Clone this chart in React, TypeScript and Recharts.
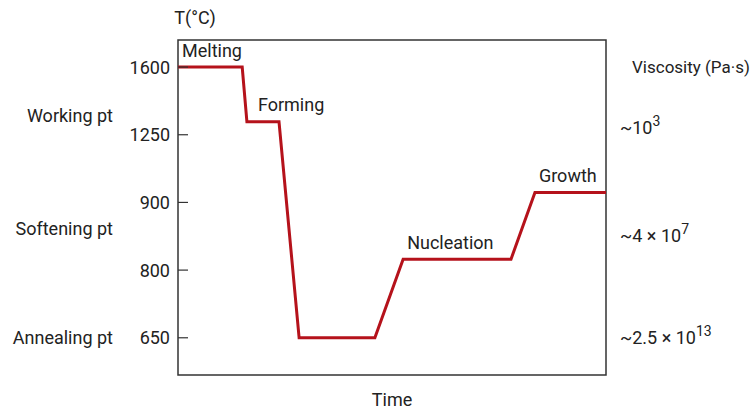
import { LineChart, Line, XAxis, YAxis, ReferenceArea, LabelList } from "recharts";

// time (arbitrary units, 0–100) and temperature (°C) of the glass-ceramic heat treatment
const timePts = [0, 15, 16.1, 23.6, 28.3, 46, 52.6, 77.8, 83.4, 100];
const tempPts = [1600, 1600, 1317, 1317, 650, 650, 816, 816, 951, 951];
const stageNames = ["Melting", "", "Forming", "", "", "", "Nucleation", "", "Growth", ""];

// temperature axis ticks (evenly spaced, not to scale)
const tempTicks = [650, 800, 900, 1250, 1600];

// named points on the left
const pointNames = ["Annealing pt", "Softening pt", "Working pt"];
const pointTemps = [650, 862, 1348];

// viscosity notes on the right
const viscTitle = "Viscosity (Pa·s)";
const viscBase = ["~2.5 × 10", "~4 × 10", "~10"];
const viscExp = ["13", "7", "3"];
const viscTemps = [650, 850, 1285];

const RED = "#b5121b";
const INK = "#222";
const FONT = "Roboto, 'Noto Sans', sans-serif";

// piecewise position on the non-linear temperature axis
function toLevel(t: number) {
  for (let i = 0; i < tempTicks.length - 1; i++) {
    if (t <= tempTicks[i + 1]) return i + (t - tempTicks[i]) / (tempTicks[i + 1] - tempTicks[i]);
  }
  return tempTicks.length - 1;
}

const tempLevels = tempTicks.map(toLevel);
const pointLevels = pointTemps.map(toLevel);
const viscLevels = viscTemps.map(toLevel);
const titleLevel = toLevel(1600);
const leftTicks = Array.from(new Set([...tempLevels, ...pointLevels]));

const data = timePts.map((t, i) => ({ time: t, level: toLevel(tempPts[i]), stage: stageNames[i] }));

const DOMAIN: [number, number] = [-0.55, 4.4];

function LeftTick({ x, y, payload }: any) {
  const ti = tempLevels.indexOf(payload.value);
  const pi = pointLevels.indexOf(payload.value);
  return (
    <g>
      {ti >= 0 && (
        <>
          <text x={x} y={y} textAnchor="end" dominantBaseline="central" fontSize={18} fill={INK} fontFamily={FONT}>
            {tempTicks[ti]}
          </text>
          <line x1={x + 8} x2={x + 18} y1={y} y2={y} stroke="#333" strokeWidth={1.2} />
        </>
      )}
      {pi >= 0 && (
        <text x={x - 57} y={y} textAnchor="end" dominantBaseline="central" fontSize={18} fill={INK} fontFamily={FONT}>
          {pointNames[pi]}
        </text>
      )}
    </g>
  );
}

function ViscTick({ x, y, payload }: any) {
  if (payload.value === titleLevel) {
    return (
      <text x={x + 12} y={y} dominantBaseline="central" fontSize={17} fill={INK} fontFamily={FONT}>
        {viscTitle}
      </text>
    );
  }
  const i = viscLevels.indexOf(payload.value);
  return (
    <text x={x} y={y} dy={6} fontSize={18} fill={INK} fontFamily={FONT}>
      {viscBase[i]}
      <tspan dy={-8} fontSize={14}>{viscExp[i]}</tspan>
    </text>
  );
}

function StageLabel({ x, y, value }: any) {
  if (!value) return null;
  const dx = value === "Forming" ? 11 : 4;
  return (
    <text x={x + dx} y={y - 17} dominantBaseline="central" fontSize={18} fill={INK} fontFamily={FONT}>
      {value}
    </text>
  );
}

export default function App() {
  return (
    <div style={{ position: "absolute", left: 0, top: 0, background: "#fff" }}>
      <LineChart width={754} height={410} data={data} margin={{ top: 40, right: 0, left: 0, bottom: 0 }}>
        <XAxis
          dataKey="time"
          type="number"
          domain={[0, 100]}
          height={35}
          tick={false}
          tickLine={false}
          axisLine={false}
          label={{ value: "Time", position: "insideBottom", offset: 4, fontSize: 18, fill: INK, fontFamily: FONT }}
        />
        <YAxis
          yAxisId="t"
          type="number"
          domain={DOMAIN}
          ticks={leftTicks}
          interval={0}
          width={178}
          tickSize={0}
          tickMargin={8}
          axisLine={false}
          tick={<LeftTick />}
          label={{
            content: ({ viewBox }: any) => (
              <text
                x={viewBox.x + viewBox.width + 17}
                y={viewBox.y - 23}
                textAnchor="middle"
                dominantBaseline="central"
                fontSize={18}
                fill={INK}
                fontFamily={FONT}
              >
                T(°C)
              </text>
            ),
          }}
        />
        <YAxis
          yAxisId="visc"
          orientation="right"
          type="number"
          domain={DOMAIN}
          ticks={[...viscLevels, titleLevel]}
          interval={0}
          width={148}
          tickSize={0}
          tickMargin={14}
          axisLine={false}
          tick={<ViscTick />}
        />
        <ReferenceArea
          yAxisId="t"
          x1={0}
          x2={100}
          y1={DOMAIN[0]}
          y2={DOMAIN[1]}
          fill="none"
          stroke="#333"
          strokeWidth={1.5}
          fillOpacity={0}
        />
        {/* invisible twin so the viscosity axis has a series */}
        <Line
          yAxisId="visc"
          type="linear"
          dataKey="level"
          stroke="none"
          dot={false}
          activeDot={false}
          legendType="none"
          isAnimationActive={false}
        />
        <Line
          yAxisId="t"
          type="linear"
          dataKey="level"
          stroke={RED}
          strokeWidth={3}
          dot={false}
          isAnimationActive={false}
        >
          <LabelList dataKey="stage" content={<StageLabel />} />
        </Line>
      </LineChart>
    </div>
  );
}
